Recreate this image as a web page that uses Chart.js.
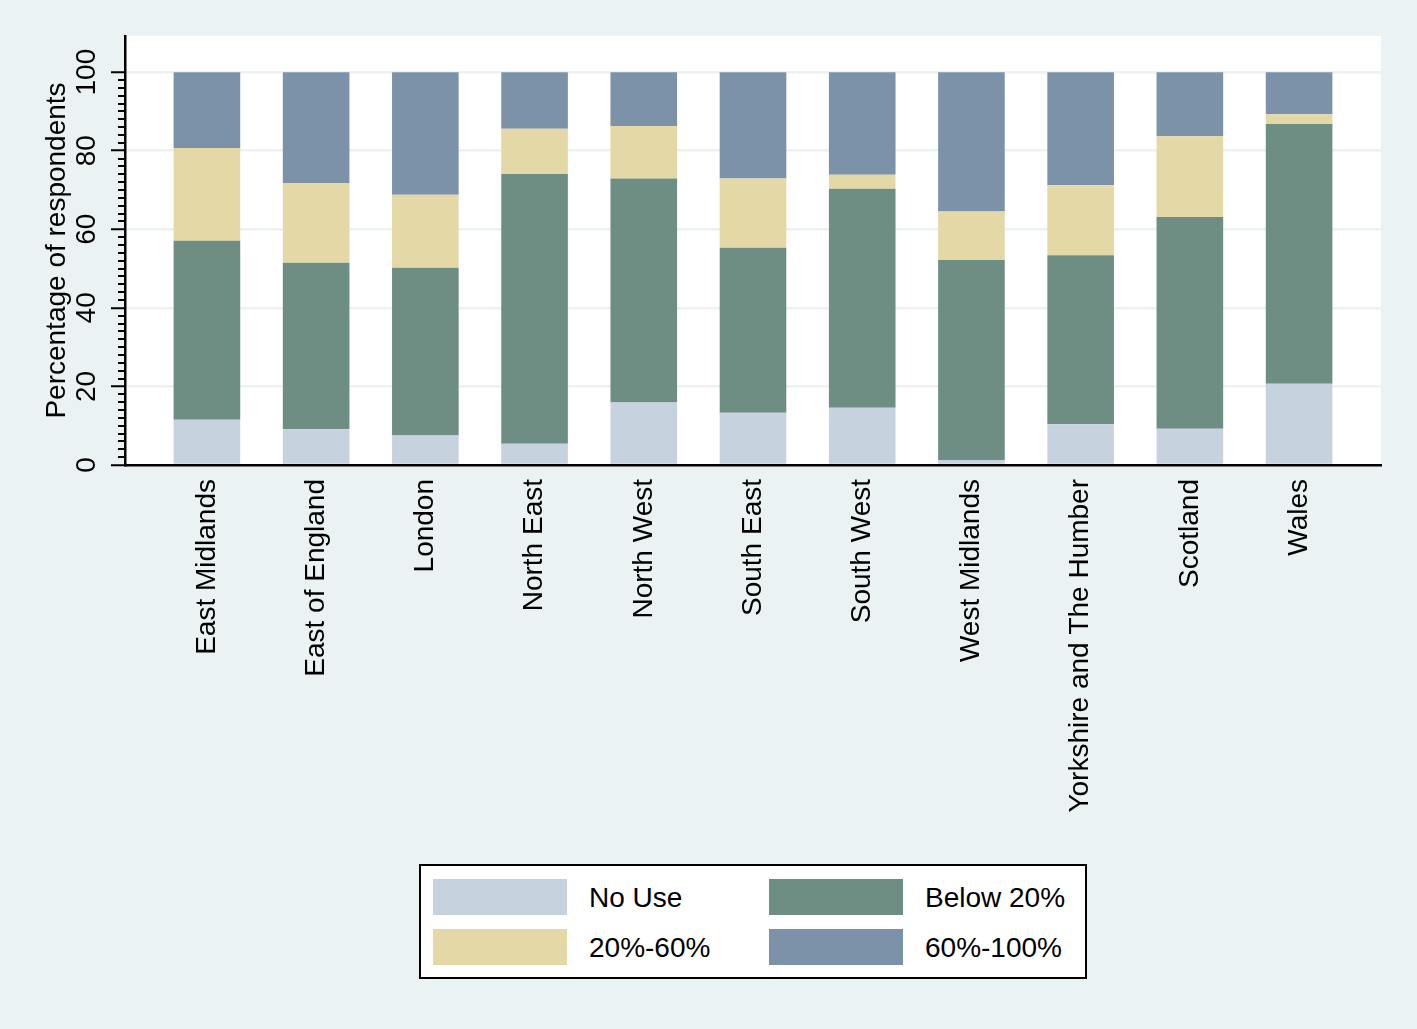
<!DOCTYPE html>
<html><head><meta charset="utf-8">
<script src="https://cdn.jsdelivr.net/npm/chart.js@4"></script>
<style>
html,body{margin:0;padding:0;background:#eaf2f3;}
#wrap{position:relative;width:1417px;height:1029px;overflow:hidden;}
canvas{position:absolute;left:0;top:0;}
#legend{position:absolute;left:419px;top:864px;width:668px;height:115px;box-sizing:border-box;border:2px solid #000;background:#fff;font-family:'Liberation Sans',Arial,Helvetica,sans-serif;font-size:28px;color:#000;}
.sw{position:absolute;width:134px;height:36px;}
.lt{position:absolute;height:36px;line-height:38px;white-space:nowrap;}
</style></head><body>
<div id="wrap"><canvas id="c" width="1417" height="1029"></canvas><div id="legend"></div></div>
<script>
const categories = ['East Midlands','East of England','London','North East','North West','South East','South West','West Midlands','Yorkshire and The Humber','Scotland','Wales'];
const seriesNames = ['No Use','Below 20%','20%-60%','60%-100%'];
const noUse    = [11.5, 9.1, 7.5, 5.4, 15.9, 13.3, 14.6, 1.3, 10.4, 9.2, 20.7];
const below20  = [45.6, 42.4, 42.7, 68.7, 57.0, 42.0, 55.7, 50.9, 43.0, 53.9, 66.1];
const p20to60  = [23.6, 20.3, 18.6, 11.5, 13.4, 17.6, 3.6, 12.3, 17.8, 20.6, 2.5];
const p60to100 = [19.3, 28.2, 31.2, 14.4, 13.7, 27.1, 26.1, 35.5, 28.8, 16.3, 10.7];
const yTicks = [0, 20, 40, 60, 80, 100];
const yMinorTicks = [2,4,6,8,10,12,14,16,18,22,24,26,28,30,32,34,36,38,42,44,46,48,50,52,54,56,58,62,64,66,68,70,72,74,76,78,82,84,86,88,90,92,94,96,98];
const colors = ['#c6d3df', '#6e8e84', '#e4d9a6', '#7c92a8'];

const FONT = "'Liberation Sans', Arial, Helvetica, sans-serif";
Chart.defaults.font.family = FONT;
Chart.defaults.color = '#000';

const seriesValues = [noUse, below20, p20to60, p60to100];
const datasets = seriesValues.map((vals, k) => ({
  label: seriesNames[k],
  data: vals.map((v, i) => ({x: i, y: v})),
  backgroundColor: colors[k],
  borderWidth: 0,
  barPercentage: 0.61,
  categoryPercentage: 1.0
}));

const plotBg = {
  id: 'plotBg',
  beforeDraw(chart) {
    const {ctx, chartArea: a} = chart;
    ctx.save();
    ctx.fillStyle = '#eaf2f3';
    ctx.fillRect(0, 0, chart.width, chart.height);
    ctx.fillStyle = '#ffffff';
    ctx.fillRect(a.left, a.top, a.right - a.left, a.bottom - a.top);
    ctx.restore();
  }
};
const minorTicks = {
  id: 'minorTicks',
  afterDraw(chart) {
    const s = chart.scales.y, ctx = chart.ctx;
    ctx.save();
    ctx.strokeStyle = '#000';
    ctx.lineWidth = 2;
    yMinorTicks.forEach(v => {
      const p = Math.round(s.getPixelForValue(v));
      ctx.beginPath();
      ctx.moveTo(s.right - 7, p);
      ctx.lineTo(s.right, p);
      ctx.stroke();
    });
    ctx.restore();
  }
};

const chart = new Chart(document.getElementById('c'), {
  type: 'bar',
  data: { datasets },
  plugins: [plotBg, minorTicks],
  options: {
    responsive: false,
    devicePixelRatio: 1,
    animation: false,
    layout: { padding: { top: 36, right: 36, left: 0, bottom: 0 } },
    plugins: { legend: { display: false }, tooltip: { enabled: false } },
    scales: {
      x: {
        type: 'linear',
        offset: false,
        stacked: true,
        min: -0.75,
        max: 10.75,
        afterBuildTicks: s => { s.ticks = categories.map((c, i) => ({ value: i })); },
        afterFit: s => { s.height = 1029 - 465; },
        grid: { display: false, drawTicks: false, offset: false },
        border: { display: true, color: '#000', width: 2.5 },
        ticks: {
          autoSkip: false,
          minRotation: 90,
          maxRotation: 90,
          padding: 14,
          font: { size: 28 },
          color: '#000',
          callback: v => categories[v]
        }
      },
      y: {
        stacked: true,
        min: 0,
        max: 109.2,
        afterBuildTicks: s => { s.ticks = yTicks.map(v => ({ value: v })); },
        afterFit: s => { s.width = 125; },
        grid: { color: '#eaf2f3', lineWidth: 2.5, tickColor: '#000', tickWidth: 2, tickLength: 14, drawTicks: true },
        border: { display: true, color: '#000', width: 2.5 },
        ticks: {
          minRotation: 90,
          maxRotation: 90,
          crossAlign: 'center',
          padding: 0,
          font: { size: 28 },
          color: '#000'
        },
        title: {
          display: true,
          text: 'Percentage of respondents',
          font: { size: 28 },
          color: '#000',
          padding: { top: 40, bottom: 0 }
        }
      }
    }
  }
});

// legend built from the chart's datasets
const leg = document.getElementById('legend');
const pos = [[12, 13], [348, 13], [12, 63], [348, 63]];
chart.data.datasets.forEach((ds, k) => {
  const [lx, ly] = pos[k];
  const sw = document.createElement('div');
  sw.className = 'sw';
  sw.style.left = lx + 'px'; sw.style.top = ly + 'px';
  sw.style.background = ds.backgroundColor;
  leg.appendChild(sw);
  const t = document.createElement('div');
  t.className = 'lt';
  t.style.left = (lx + 156) + 'px'; t.style.top = ly + 'px';
  t.textContent = ds.label;
  leg.appendChild(t);
});
</script>
</body></html>
